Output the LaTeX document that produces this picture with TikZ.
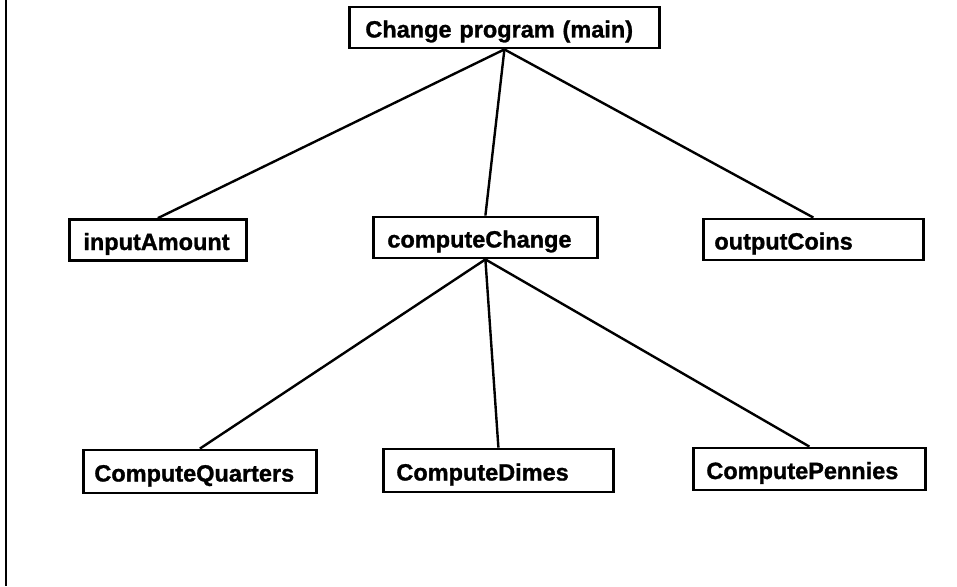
\documentclass[tikz,border=0pt]{standalone}
\usepackage{fontspec}
\setmainfont{Liberation Sans}
\newfontfamily\labelfont[FakeBold=1.2]{Liberation Sans Bold}
\begin{document}
\begin{tikzpicture}[x=1pt,y=-1pt,
  modbox/.style={draw, line width=2.8pt, rectangle, anchor=west, align=left,
    inner xsep=14pt, inner ysep=0pt, minimum height=41pt,
    text height=21pt, text depth=1pt,
    font=\fontsize{23.5}{27}\labelfont},
  link/.style={line width=2.4pt}]
  \useasboundingbox[fill=white] (0,0) rectangle (957,586);
  % left margin rule
  \coordinate (railtop) at (6,0);
  \coordinate (railbot) at (6,586);
  \draw[line width=2.6pt] (railtop) -- (railbot);

  % top level
  \node[modbox, inner xsep=16pt, text width=278pt] (main) at (348,27.5) {Change program (main)};

  % second level
  \node[modbox, text width=149pt] (inp) at (68,240) {inputAmount};
  \node[modbox, text width=196pt] (chg) at (372,237.5) {computeChange};
  \node[modbox, inner xsep=11pt, text width=198pt] (out) at (702,239.5) {outputCoins};

  % third level
  \node[modbox, inner xsep=11pt, text width=211pt, minimum height=43pt] (qrt) at (82,471.5) {ComputeQuarters};
  \node[modbox, inner xsep=13pt, text width=204pt, minimum height=43pt] (dim) at (382,470.5) {ComputeDimes};
  \node[modbox, inner xsep=13pt, text width=206pt, minimum height=42pt] (pen) at (692,469) {ComputePennies};

  % call structure
  \draw[link] (main.south) -- (inp.north);
  \draw[link] (main.south) -- (chg.north);
  \draw[link] (main.south) -- (out.north);
  \draw[link] (chg.south) -- (qrt.north);
  \draw[link] (chg.south) -- (dim.north);
  \draw[link] (chg.south) -- (pen.north);
\end{tikzpicture}
\end{document}
